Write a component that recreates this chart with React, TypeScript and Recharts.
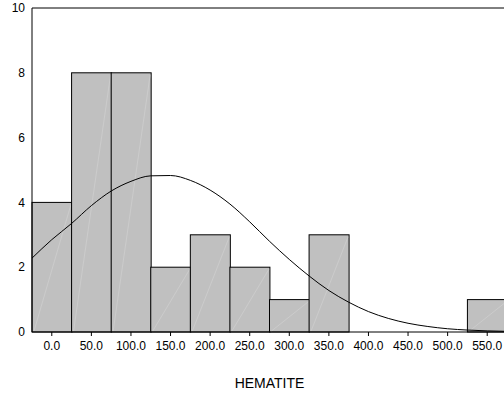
import React from "react";
import {
  ComposedChart,
  Bar,
  Line,
  XAxis,
  YAxis,
  ReferenceLine,
} from "recharts";

// Histogram bins (bin centres) and their frequencies
const binCenters = [0, 50, 100, 150, 200, 250, 300, 350, 400, 450, 500, 550];
const binCounts = [4, 8, 8, 2, 3, 2, 1, 3, 0, 0, 0, 1];

// Fitted normal curve, sampled every 25 units
const curveX = [
  -25, 0, 25, 50, 75, 100, 125, 150, 175, 200, 225, 250, 275, 300, 325, 350,
  375, 400, 425, 450, 475, 500, 525, 550, 575,
];
const curveY = [
  2.28, 2.85, 3.35, 3.9, 4.35, 4.65, 4.82, 4.83, 4.68, 4.38, 3.95, 3.4, 2.8,
  2.24, 1.73, 1.28, 0.92, 0.63, 0.42, 0.27, 0.17, 0.1, 0.06, 0.035, 0.02,
];

const yTicks = [0, 2, 4, 6, 8, 10];

const binRows = binCenters.map((x, i) => ({ bin: x.toFixed(1), count: binCounts[i] }));
const curveRows = curveX.map((x, i) => ({ x, curve: curveY[i] }));

const font = "'Liberation Sans', Arial, sans-serif";

// Grey bin with the faint diagonal streak of the original fill pattern
const HistBar = (props: any) => {
  const { x, y, width, height } = props;
  if (!height || height <= 0) return null;
  return (
    <g>
      <rect x={x} y={y} width={width} height={height} fill="#c0c0c0" stroke="#000" strokeWidth={1} />
      <line
        x1={x + 2}
        y1={y + height - 1}
        x2={x + width - 1}
        y2={y + 2}
        stroke="#d6d6d6"
        strokeWidth={0.5}
      />
    </g>
  );
};

export default function App() {
  return (
    <div
      style={{
        position: "absolute",
        left: 0,
        top: 0,
        width: 504,
        height: 394,
        overflow: "hidden",
        background: "#fff",
      }}
    >
      <ComposedChart
        width={520}
        height={394}
        data={binRows}
        barCategoryGap={0}
        barGap={0}
        margin={{ top: 8, right: 13, left: 0, bottom: 0 }}
      >
        <XAxis
          xAxisId="bins"
          dataKey="bin"
          type="category"
          interval={0}
          height={62}
          tickSize={4}
          tickMargin={5}
          stroke="#000"
          tick={{ fill: "#000", fontSize: 12, fontFamily: font }}
          label={{
            value: "HEMATITE",
            position: "insideBottom",
            offset: 6,
            fill: "#000",
            fontSize: 14,
            fontFamily: font,
          }}
        />
        <XAxis
          xAxisId="num"
          dataKey="x"
          type="number"
          domain={[-25, 575]}
          allowDataOverflow
          hide
        />
        <YAxis
          type="number"
          domain={[0, 10]}
          ticks={yTicks}
          width={32}
          tickLine={false}
          tickSize={0}
          tickMargin={7}
          stroke="#000"
          tick={{ fill: "#000", fontSize: 12, fontFamily: font }}
        />
        <ReferenceLine xAxisId="num" y={10} stroke="#000" strokeWidth={1} ifOverflow="visible" />
        <ReferenceLine xAxisId="num" x={575} stroke="#000" strokeWidth={1} ifOverflow="visible" />
        <Bar
          xAxisId="bins"
          dataKey="count"
          shape={<HistBar />}
          isAnimationActive={false}
        />
        <Line
          xAxisId="num"
          data={curveRows}
          dataKey="curve"
          type="monotone"
          stroke="#000"
          strokeWidth={1}
          dot={false}
          activeDot={false}
          isAnimationActive={false}
        />
      </ComposedChart>
    </div>
  );
}
